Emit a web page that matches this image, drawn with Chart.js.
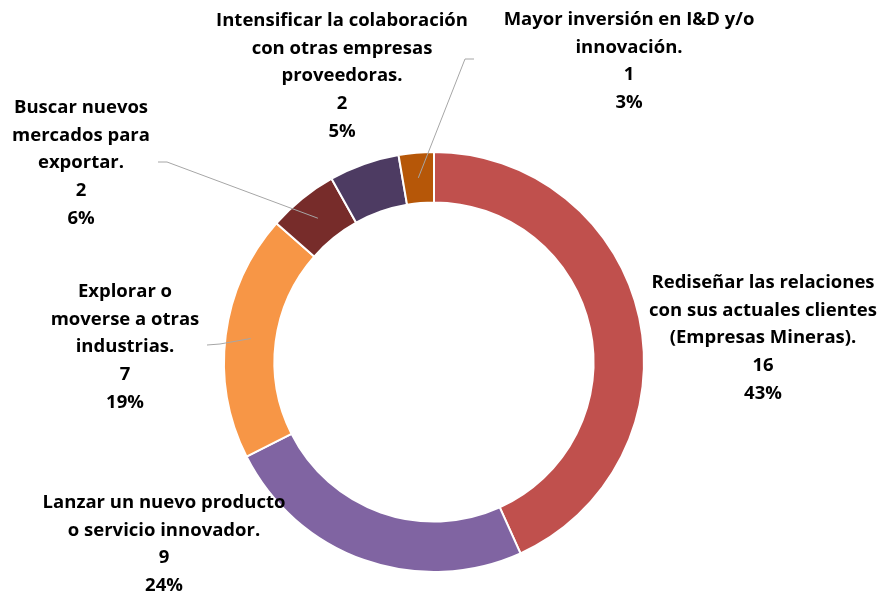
<!DOCTYPE html>
<html>
<head>
<meta charset="utf-8">
<script src="https://cdn.jsdelivr.net/npm/chart.js@4"></script>
<style>
  html, body { margin: 0; padding: 0; background: #fff; }
  #wrap { width: 880px; height: 594px; }
</style>
</head>
<body>
<div id="wrap"><canvas id="donutChart" width="880" height="594"></canvas></div>
<script>
// data
const categories = [
    ['Rediseñar las relaciones', 'con sus actuales clientes', '(Empresas Mineras).'],
    ['Lanzar un nuevo producto', 'o servicio innovador.'],
    ['Explorar o', 'moverse a otras', 'industrias.'],
    ['Buscar nuevos', 'mercados para', 'exportar.'],
    ['Intensificar la colaboración', 'con otras empresas', 'proveedoras.'],
    ['Mayor inversión en I&D y/o', 'innovación.']
];
const counts = [16, 9, 7, 2, 2, 1];
const percentLabels = ['43%', '24%', '19%', '6%', '5%', '3%'];
const colors = ['#C0504D', '#8064A2', '#F79646', '#772C2A', '#4D3B62', '#B65708'];

// where each label block sits (center x, first line y) and whether it gets a leader line
const labelPos = [
    { x: 763, y: 283 },
    { x: 164, y: 503 },
    { x: 125, y: 292, leader: [[207, 345], [220, 344]] },
    { x: 81, y: 108, leader: [[158, 162], [167, 162]] },
    { x: 342, y: 21 },
    { x: 629, y: 20, leader: [[474, 59], [465, 59]] }
];
const lineHeight = 27.6;

const labelPlugin = {
    id: 'sliceLabels',
    afterDatasetsDraw(chart) {
        const ctx = chart.ctx;
        const arcs = chart.getDatasetMeta(0).data;
        ctx.save();
        // leader lines first
        ctx.strokeStyle = '#A6A6A6';
        ctx.lineWidth = 1;
        labelPos.forEach((p, i) => {
            if (!p.leader) return;
            const end = arcs[i].getCenterPoint();
            ctx.beginPath();
            ctx.moveTo(p.leader[0][0], p.leader[0][1]);
            for (let k = 1; k < p.leader.length; k++) ctx.lineTo(p.leader[k][0], p.leader[k][1]);
            ctx.lineTo(end.x, end.y);
            ctx.stroke();
        });
        ctx.fillStyle = '#000';
        ctx.font = 'bold 18.5px "Open Sans"';
        ctx.textAlign = 'center';
        ctx.textBaseline = 'middle';
        labelPos.forEach((p, i) => {
            const lines = categories[i].concat([String(counts[i]), percentLabels[i]]);
            lines.forEach((t, k) => ctx.fillText(t, p.x, p.y + k * lineHeight));
        });
        ctx.restore();
    }
};

function loadChart() {
    const ctx = document.getElementById('donutChart').getContext('2d');
    new Chart(ctx, {
        type: 'doughnut',
        data: {
            labels: categories.map(c => c.join(' ')),
            datasets: [{
                data: counts,
                backgroundColor: colors,
                borderColor: '#fff',
                borderWidth: 2
            }]
        },
        options: {
            responsive: false,
            animation: false,
            cutout: '76%',
            layout: { padding: { left: 223, top: 151, right: 235, bottom: 21 } },
            plugins: {
                legend: { display: false },
                tooltip: { enabled: false }
            }
        },
        plugins: [labelPlugin]
    });
}

document.addEventListener('DOMContentLoaded', loadChart);
</script>
</body>
</html>
